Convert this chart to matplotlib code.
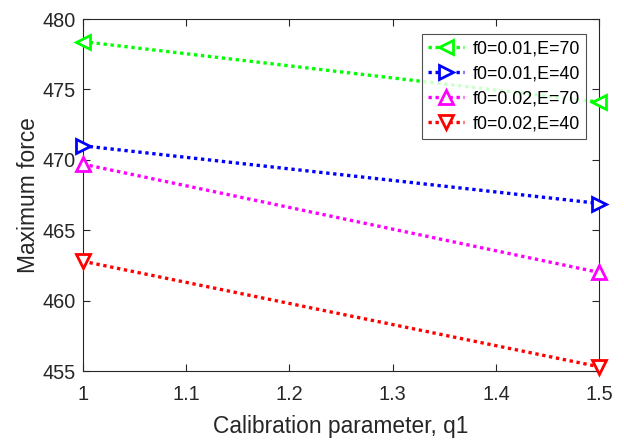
import matplotlib
matplotlib.use("Agg")
import matplotlib.pyplot as plt

plt.rcParams['font.family'] = ['Liberation Sans', 'DejaVu Sans']

# calibration parameter values and the peak force for each case
q1 = [1.0, 1.5]
force_f001_e70 = [478.4, 474.1]
force_f001_e40 = [471.0, 466.9]
force_f002_e70 = [469.7, 462.0]
force_f002_e40 = [462.8, 455.3]

series = [
    ("f0=0.01,E=70", force_f001_e70, "#00ff00", "<"),
    ("f0=0.01,E=40", force_f001_e40, "#0000ff", ">"),
    ("f0=0.02,E=70", force_f002_e70, "#ff00ff", "^"),
    ("f0=0.02,E=40", force_f002_e40, "#ff0000", "v"),
]

fig = plt.figure(figsize=(6.24, 4.41), dpi=100)
ax = fig.add_axes([0.1325, 0.1587, 0.828, 0.798])

for label, vals, color, mk in series:
    ax.plot(q1, vals, linestyle=(0, (1, 1.1)), linewidth=2.4, color=color,
            marker=mk, markersize=9.5, markerfacecolor="white",
            markeredgecolor=color, markeredgewidth=2.0, label=label,
            clip_on=False, zorder=3)

ax.set_xlim(1, 1.5)
ax.set_ylim(455, 480)
ax.set_xticks([1, 1.1, 1.2, 1.3, 1.4, 1.5])
ax.set_xticklabels(["1", "1.1", "1.2", "1.3", "1.4", "1.5"])
ax.set_yticks([455, 460, 465, 470, 475, 480])

axis_color = "#262626"
for sp in ax.spines.values():
    sp.set_color(axis_color)
    sp.set_linewidth(0.8)
ax.tick_params(direction="in", top=True, right=True, length=5,
               width=0.8, color=axis_color, labelcolor=axis_color,
               labelsize=14.3)
ax.tick_params(axis="x", pad=10)
ax.tick_params(axis="y", pad=5)

ax.set_xlabel("Calibration parameter, q1", fontsize=16.4, color=axis_color,
              labelpad=8)
ax.set_ylabel("Maximum force", fontsize=16.4, color=axis_color, labelpad=2)

leg = ax.legend(loc="upper right", bbox_to_anchor=(0.939, 0.923),
                bbox_transform=fig.transFigure,
                fontsize=12.9, frameon=True, fancybox=False,
                edgecolor=axis_color, handlelength=2.0, borderpad=0.35,
                labelspacing=0.45, handletextpad=0.45, borderaxespad=0)
leg.get_frame().set_linewidth(0.8)

fig.savefig("out.png", dpi=100)
